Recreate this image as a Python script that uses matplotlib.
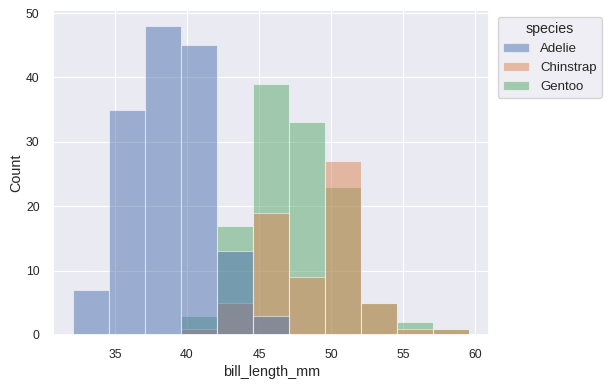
import numpy as np
import matplotlib
matplotlib.use("Agg")
import matplotlib.pyplot as plt
import seaborn as sns

sns.set_theme(rc={"grid.linewidth": 0.8})
plt.rcParams["font.family"] = ["Liberation Sans", "DejaVu Sans"]
plt.rcParams.update({
    "xtick.labelsize": 8.8,
    "ytick.labelsize": 8.8,
    "axes.labelsize": 10.4,
    "legend.fontsize": 9.5,
    "legend.title_fontsize": 10.2,
})

# bin edges of bill_length_mm (11 bins from 32.1 to 59.6)
bin_start = 32.1
bin_width = 2.5
n_bins = 11

species = ["Adelie", "Chinstrap", "Gentoo"]
adelie = [7, 35, 48, 45, 13, 3, 0, 0, 0, 0, 0]
chinstrap = [0, 0, 0, 1, 5, 19, 9, 27, 5, 1, 1]
gentoo = [0, 0, 0, 3, 17, 39, 33, 23, 5, 2, 1]
counts = {"Adelie": adelie, "Chinstrap": chinstrap, "Gentoo": gentoo}

colors = sns.color_palette("deep", 3)

left = bin_start + bin_width * np.arange(n_bins)

fig, ax = plt.subplots(figsize=(6.12, 3.87), dpi=100)

handles = {}
# seaborn draws hue levels in reverse order
for i in reversed(range(len(species))):
    name = species[i]
    bars = ax.bar(left, counts[name], width=bin_width, align="edge",
                  color=colors[i], alpha=0.5, edgecolor="white", linewidth=0.8,
                  label=name)
    handles[name] = bars

ax.set_xlabel("bill_length_mm", labelpad=3)
ax.set_ylabel("Count", labelpad=2)
ax.set_ylim(0, 50.4)
ax.set_xlim(30.725, 60.975)
ax.tick_params(pad=4)
ax.legend([handles[s] for s in species], species, title="species",
          loc="upper left", bbox_to_anchor=(1.005, 1))

fig.subplots_adjust(left=0.0874, right=0.799, top=0.973, bottom=0.1344)
fig.savefig("out.png", dpi=100)
